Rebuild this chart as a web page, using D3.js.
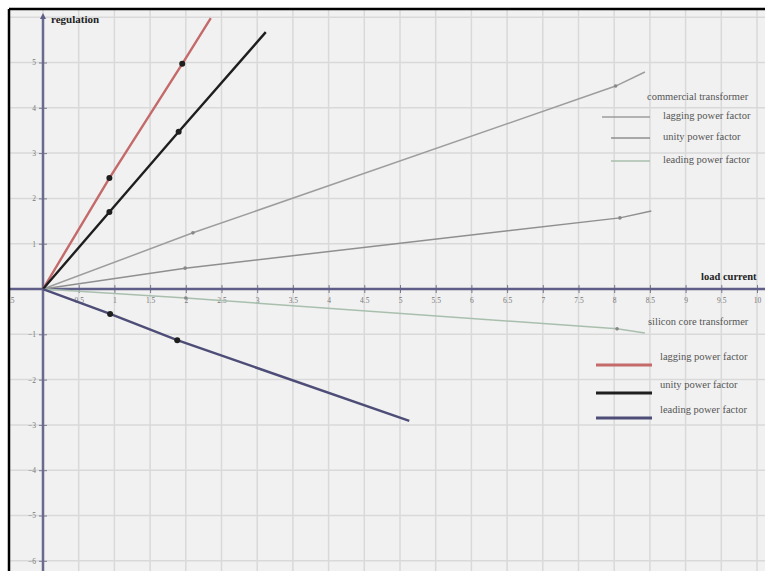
<!DOCTYPE html>
<html><head><meta charset="utf-8">
<script src="https://cdn.jsdelivr.net/npm/d3@7"></script>
<style>
html,body{margin:0;padding:0;background:#fff;}
svg{display:block;}
</style></head>
<body>
<svg id="chart" width="765" height="571"></svg>
<script>
// ---- data ----
const xTicks = [-0.5,0.5,1,1.5,2,2.5,3,3.5,4,4.5,5,5.5,6,6.5,7,7.5,8,8.5,9,9.5,10];
const yTicks = [-6,-5,-4,-3,-2,-1,1,2,3,4,5];
const siliconLagging = [[0,0],[0.93,2.45],[1.95,4.97],[2.35,5.98]];
const siliconUnity   = [[0,0],[0.93,1.70],[1.90,3.47],[3.12,5.67]];
const siliconLeading = [[0,0],[0.94,-0.55],[1.88,-1.13],[5.13,-2.91]];
const commLagging    = [[0,0],[2.10,1.24],[8.02,4.48],[8.43,4.79]];
const commUnity      = [[0,0],[1.99,0.46],[8.08,1.57],[8.52,1.72]];
const commLeading    = [[0,0],[2.00,-0.20],[8.04,-0.88],[8.43,-0.97]];
const siliconMarks = [siliconLagging.slice(1,3), siliconUnity.slice(1,3), siliconLeading.slice(1,3)];
const commMarks = [commLagging.slice(1,3), commUnity.slice(1,3), commLeading.slice(1,3)];
const commLegend = ["lagging power factor","unity power factor","leading power factor"];
const siliconLegend = ["lagging power factor","unity power factor","leading power factor"];

const svg = d3.select("#chart");
const W = 765, H = 571;
const x = d3.scaleLinear().domain([0,10]).range([43,757]);
const y = d3.scaleLinear().domain([0,5]).range([289,62.5]);

// frame/background
svg.append("defs").append("clipPath").attr("id","clip")
  .append("rect").attr("x",10).attr("y",10).attr("width",W-10).attr("height",H-10);
svg.append("rect").attr("x",10).attr("y",10).attr("width",W-10).attr("height",H-10).attr("fill","#f1f1f1");
const g = svg.append("g").attr("clip-path","url(#clip)");

// grid
const gx = d3.range(-1,22).map(d=>d*0.5);
g.append("g").selectAll("line").data(gx).join("line")
  .attr("x1",d=>x(d)).attr("x2",d=>x(d)).attr("y1",0).attr("y2",H)
  .attr("stroke","#d9d9d9").attr("stroke-width",1.5);
g.append("g").selectAll("line").data(d3.range(-7,8)).join("line")
  .attr("x1",0).attr("x2",W).attr("y1",d=>y(d)).attr("y2",d=>y(d))
  .attr("stroke","#d9d9d9").attr("stroke-width",1.5);

// axes
const xAxis = d3.axisBottom(x).tickValues(xTicks).tickFormat(d3.format("")).tickSizeInner(4).tickSizeOuter(0).tickPadding(5);
const ax = g.append("g").attr("transform",`translate(0,${y(0)})`).call(xAxis);
ax.select(".domain").remove();
ax.selectAll(".tick line").attr("y1",-4).attr("stroke","#7a7a90");
ax.selectAll(".tick text").attr("font-family","Liberation Serif").attr("font-size",7.5).attr("fill","#777");
g.append("line").attr("x1",0).attr("x2",W).attr("y1",y(0)).attr("y2",y(0))
  .attr("stroke","#5e5e88").attr("stroke-width",2.5);

const yAxis = d3.axisLeft(y).tickValues(yTicks).tickFormat(d3.format("")).tickSizeInner(4).tickSizeOuter(0).tickPadding(3);
const ay = g.append("g").attr("transform",`translate(${x(0)},0)`).call(yAxis);
ay.select(".domain").remove();
ay.selectAll(".tick line").attr("x1",4).attr("stroke","#7a7a90");
ay.selectAll(".tick text").attr("font-family","Liberation Serif").attr("font-size",7.5).attr("fill","#777");
g.append("line").attr("x1",x(0)).attr("x2",x(0)).attr("y1",17).attr("y2",H)
  .attr("stroke","#6a6a90").attr("stroke-width",2.5);
g.append("path").attr("d",`M${x(0)-3},${19} L${x(0)},${13} L${x(0)+3},${19} Z`).attr("fill","#5e5e88");

// axis labels
g.append("text").attr("x",51).attr("y",23).text("regulation")
  .attr("font-family","Liberation Serif").attr("font-weight","bold").attr("font-size",11).attr("fill","#222");
g.append("text").attr("x",701).attr("y",280).text("load current")
  .attr("font-family","Liberation Serif").attr("font-weight","bold").attr("font-size",10.5).attr("fill","#222");

const line = d3.line().x(d=>x(d[0])).y(d=>y(d[1]));

// commercial transformer lines
const commSeries = [commLagging, commUnity, commLeading];
const commColors = ["#9d9d9d","#8f8f8f","#a9bfae"];
commSeries.forEach((s,i)=>{
  g.append("path").attr("d",line(s)).attr("fill","none").attr("stroke",commColors[i]).attr("stroke-width",1.5);
});
commMarks.forEach((m,i)=>{
  g.append("g").selectAll("circle").data(m).join("circle")
    .attr("cx",d=>x(d[0])).attr("cy",d=>y(d[1])).attr("r",1.8).attr("fill","#888");
});

// silicon core transformer lines
const silSeries = [siliconLagging, siliconUnity, siliconLeading];
const silColors = ["#c46a6a","#1e1e1e","#4d4d78"];
silSeries.forEach((s,i)=>{
  g.append("path").attr("d",line(s)).attr("fill","none").attr("stroke",silColors[i]).attr("stroke-width",2.4);
});
siliconMarks.forEach((m,i)=>{
  g.append("g").selectAll("circle").data(m).join("circle")
    .attr("cx",d=>x(d[0])).attr("cy",d=>y(d[1])).attr("r",3).attr("fill","#1e1e1e");
});

// legends
const tf = {"font-family":"Liberation Serif","font-size":10.5,"fill":"#555"};
function txt(xx,yy,t){ const e=g.append("text").attr("x",xx).attr("y",yy).text(t); for(const k in tf) e.attr(k,tf[k]); return e; }
txt(647,100,"commercial transformer");
const commLegY = [117,138,161];
const commLegX1 = [602,611,611];
commLegend.forEach((t,i)=>{
  g.append("line").attr("x1",commLegX1[i]).attr("x2",650).attr("y1",commLegY[i]).attr("y2",commLegY[i])
    .attr("stroke",commColors[i]).attr("stroke-width",1.5);
  txt(663,commLegY[i]+2,t);
});
txt(648,325,"silicon core transformer");
const silLegY = [365,393,418];
siliconLegend.forEach((t,i)=>{
  g.append("line").attr("x1",596).attr("x2",652).attr("y1",silLegY[i]).attr("y2",silLegY[i])
    .attr("stroke",silColors[i]).attr("stroke-width",2.8);
  txt(660,silLegY[i]-5,t);
});

// frame edges
svg.append("line").attr("x1",9).attr("x2",9).attr("y1",9).attr("y2",H).attr("stroke","#000").attr("stroke-width",2.5);
svg.append("line").attr("x1",9).attr("x2",W).attr("y1",9).attr("y2",9).attr("stroke","#000").attr("stroke-width",2.5);
</script>
</body></html>
